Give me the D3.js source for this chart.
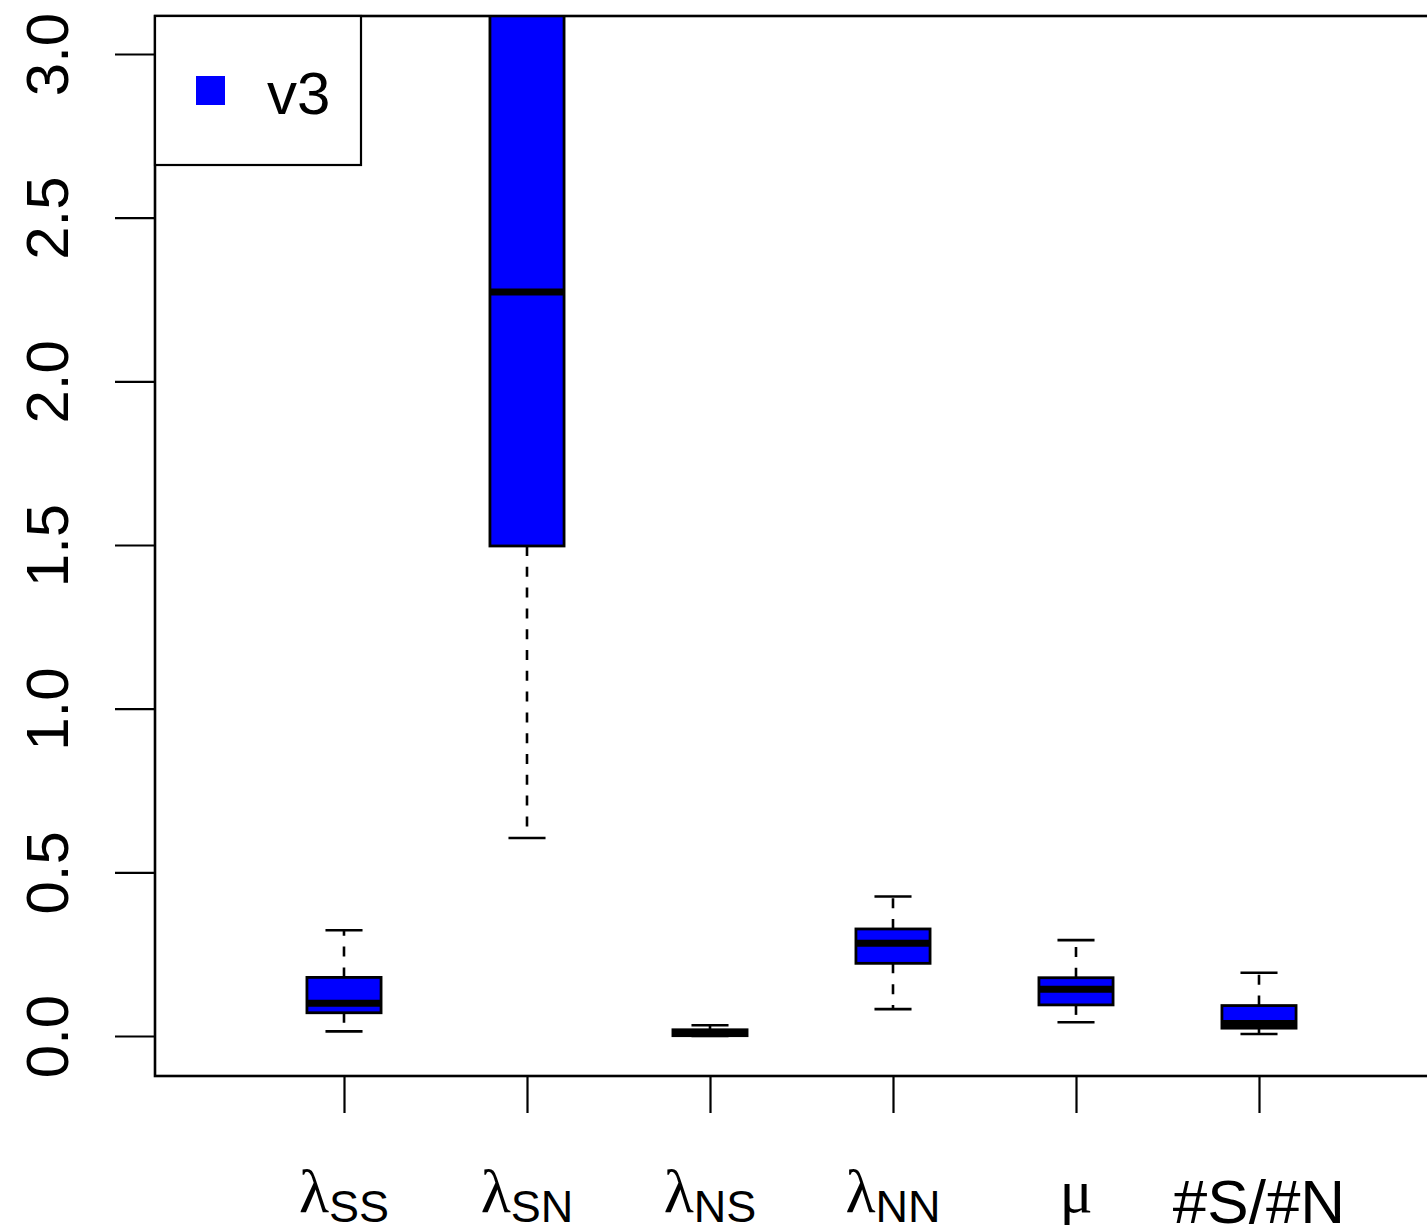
<!DOCTYPE html>
<html><head><meta charset="utf-8">
<script src="https://cdn.jsdelivr.net/npm/d3@7"></script>
<style>html,body{margin:0;padding:0;background:#fff;}svg{display:block;}</style>
</head><body>
<script>
// ---- data ----
const labelMain = ["λ", "λ", "λ", "λ", "μ", "#S/#N"];
const labelSub  = ["SS", "SN", "NS", "NN", "", ""];
const lowerWhisker = [0.014, 0.605, 0.000, 0.082, 0.042, 0.006];
const q1           = [0.071, 1.497, 0.001, 0.222, 0.095, 0.024];
const median       = [0.100, 2.273, 0.009, 0.283, 0.143, 0.038];
const q3           = [0.179, 3.400, 0.019, 0.327, 0.178, 0.093];
const upperWhisker = [0.323, 4.200, 0.033, 0.426, 0.293, 0.193];
const yTicks = [0, 0.5, 1, 1.5, 2, 2.5, 3];
const yTickLabels = ["0.0", "0.5", "1.0", "1.5", "2.0", "2.5", "3.0"];
const legendLabel = "v3";
const boxColor = "#0000ff";

const W = 1427, H = 1228;
const plotL = 155, plotT = 16, plotB = 1076, plotR = 1445;

const svg = d3.select("body").append("svg").attr("width", W).attr("height", H);

const x = d3.scaleLinear().domain([1, 6]).range([344, 1259]);
const y = d3.scaleLinear().domain([-0.1222, 3.1161]).range([plotB, plotT]);

svg.append("defs").append("clipPath").attr("id", "clip")
  .append("rect").attr("x", plotL).attr("y", plotT).attr("width", plotR - plotL).attr("height", plotB - plotT);

const data = labelMain.map((m, i) => ({i, pos: i + 1, lw: lowerWhisker[i], q1: q1[i], med: median[i], q3: q3[i], uw: upperWhisker[i]}));
const bw = (x(2) - x(1)) * 0.405;

const g = svg.append("g").attr("clip-path", "url(#clip)");
const bx = g.selectAll("g.box").data(data).join("g").attr("class", "box");
// whiskers (dashed)
bx.append("line").attr("x1", d => x(d.pos)).attr("x2", d => x(d.pos))
  .attr("y1", d => y(d.q3)).attr("y2", d => y(d.uw))
  .attr("stroke", "#000").attr("stroke-width", 2.6).attr("stroke-dasharray", "10,10.8");
bx.append("line").attr("x1", d => x(d.pos)).attr("x2", d => x(d.pos))
  .attr("y1", d => y(d.q1)).attr("y2", d => y(d.lw))
  .attr("stroke", "#000").attr("stroke-width", 2.6).attr("stroke-dasharray", "10,10.8");
// caps
bx.append("line").attr("x1", d => x(d.pos) - bw / 4).attr("x2", d => x(d.pos) + bw / 4)
  .attr("y1", d => y(d.uw)).attr("y2", d => y(d.uw))
  .attr("stroke", "#000").attr("stroke-width", 2.6);
bx.append("line").attr("x1", d => x(d.pos) - bw / 4).attr("x2", d => x(d.pos) + bw / 4)
  .attr("y1", d => y(d.lw)).attr("y2", d => y(d.lw))
  .attr("stroke", "#000").attr("stroke-width", 2.6);
// box
bx.append("rect").attr("x", d => x(d.pos) - bw / 2).attr("width", bw)
  .attr("y", d => y(d.q3)).attr("height", d => Math.max(0.5, y(d.q1) - y(d.q3)))
  .attr("fill", boxColor).attr("stroke", "#000").attr("stroke-width", 2.8);
// median
bx.append("line").attr("x1", d => x(d.pos) - bw / 2).attr("x2", d => x(d.pos) + bw / 2)
  .attr("y1", d => y(d.med)).attr("y2", d => y(d.med))
  .attr("stroke", "#000").attr("stroke-width", 7).attr("stroke-linecap", "butt");

// frame
svg.append("rect").attr("x", plotL).attr("y", plotT).attr("width", plotR - plotL).attr("height", plotB - plotT)
  .attr("fill", "none").attr("stroke", "#000").attr("stroke-width", 2.6);

// y axis
const yAxis = d3.axisLeft(y).tickValues(yTicks).tickSize(40).tickFormat((d, i) => yTickLabels[i]);
const ya = svg.append("g").attr("transform", `translate(${plotL},0)`).call(yAxis);
ya.select(".domain").remove();
ya.selectAll(".tick line").attr("stroke", "#000").attr("stroke-width", 2.2);
ya.selectAll(".tick text").attr("font-family", "Liberation Sans, Arial, sans-serif").attr("font-size", 60)
  .attr("fill", "#000").attr("text-anchor", "middle").attr("dy", 0).attr("x", 0)
  .attr("transform", `translate(${68 - plotL},0) rotate(-90)`);

// x axis
const xAxis = d3.axisBottom(x).tickValues([1, 2, 3, 4, 5, 6]).tickSize(37).tickFormat("");
const xa = svg.append("g").attr("transform", `translate(0,${plotB})`).call(xAxis);
xa.select(".domain").remove();
xa.selectAll(".tick line").attr("stroke", "#000").attr("stroke-width", 2.2);

// x labels
data.forEach(d => {
  const isSym = labelMain[d.i] === "λ" || labelMain[d.i] === "μ";
  const t = svg.append("text").attr("x", x(d.pos)).attr("y", isSym ? 1212 : 1223)
    .attr("text-anchor", "middle").attr("fill", "#000");
  t.append("tspan").text(labelMain[d.i])
    .attr("font-family", isSym ? "Liberation Serif, Times New Roman, serif" : "Liberation Sans, Arial, sans-serif")
    .attr("font-size", 62);
  if (labelSub[d.i]) {
    t.append("tspan").text(labelSub[d.i]).attr("dy", 10)
      .attr("font-family", "Liberation Sans, Arial, sans-serif").attr("font-size", 45);
  }
});

// legend
svg.append("rect").attr("x", plotL).attr("y", plotT).attr("width", 361 - plotL).attr("height", 165 - plotT)
  .attr("fill", "#fff").attr("stroke", "#000").attr("stroke-width", 2.2);
svg.append("rect").attr("x", 196).attr("y", 76).attr("width", 29).attr("height", 29).attr("fill", boxColor);
svg.append("text").attr("x", 267).attr("y", 114).text(legendLabel)
  .attr("font-family", "Liberation Sans, Arial, sans-serif").attr("font-size", 60).attr("fill", "#000");
</script>
</body></html>
